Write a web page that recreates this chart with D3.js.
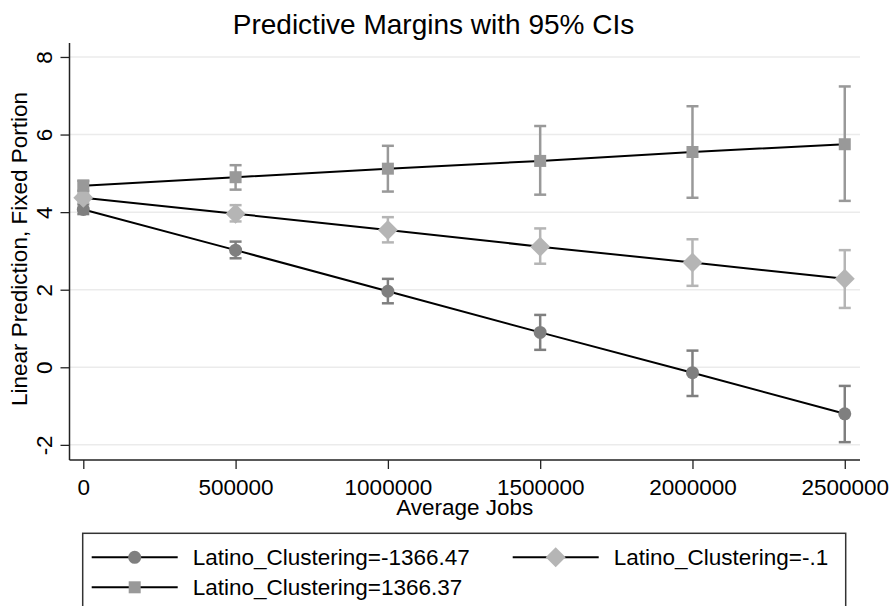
<!DOCTYPE html>
<html lang="en">
<head>
  <meta charset="UTF-8">
  <title>Predictive Margins with 95% CIs</title>
  <script src="https://d3js.org/d3.v7.min.js"></script>
  <style>
    body { margin: 0; background: #fff; }
    text { font-family: "Liberation Sans", Arial, sans-serif; fill: #000; }
  </style>
</head>
<body>
  <div id="chart"></div>
  <script>
    // values
    const jobs = [0, 500000, 1000000, 1500000, 2000000, 2500000];
    const xTicks = [0, 500000, 1000000, 1500000, 2000000, 2500000];
    const yTicks = [-2, 0, 2, 4, 6, 8];

    const seriesNames = ["Latino_Clustering=-1366.47", "Latino_Clustering=-.1", "Latino_Clustering=1366.37"];

    const lowEst = [4.07, 3.02, 1.96, 0.90, -0.14, -1.20];
    const lowLo  = [3.95, 2.81, 1.65, 0.45, -0.74, -1.93];
    const lowHi  = [4.20, 3.24, 2.28, 1.35, 0.43, -0.48];

    const midEst = [4.37, 3.96, 3.54, 3.11, 2.70, 2.28];
    const midLo  = [4.25, 3.76, 3.22, 2.67, 2.10, 1.53];
    const midHi  = [4.49, 4.18, 3.87, 3.58, 3.30, 3.02];

    const highEst = [4.68, 4.90, 5.12, 5.32, 5.55, 5.75];
    const highLo  = [4.55, 4.58, 4.53, 4.45, 4.37, 4.29];
    const highHi  = [4.81, 5.21, 5.71, 6.22, 6.73, 7.24];

    const series = [
      { name: seriesNames[0], est: lowEst, lo: lowLo, hi: lowHi, color: "#7f7f7f", shape: "circle" },
      { name: seriesNames[1], est: midEst, lo: midLo, hi: midHi, color: "#b5b5b5", shape: "diamond" },
      { name: seriesNames[2], est: highEst, lo: highLo, hi: highHi, color: "#999999", shape: "square" }
    ];

    const width = 895, height = 606;
    const plotLeft = 69.5, plotRight = 860, plotTop = 43, plotBottom = 460;

    const svg = d3.select("#chart").append("svg")
      .attr("width", width)
      .attr("height", height);

    const x = d3.scaleLinear()
      .domain([-45300, 2550000])
      .range([plotLeft, plotRight]);

    const y = d3.scaleLinear()
      .domain([-2.39, 8.36])
      .range([plotBottom, plotTop]);

    // gridlines
    svg.append("g")
      .selectAll("line")
      .data(yTicks)
      .join("line")
      .attr("x1", plotLeft)
      .attr("x2", plotRight)
      .attr("y1", d => y(d))
      .attr("y2", d => y(d))
      .attr("stroke", "#ebebeb")
      .attr("stroke-width", 1.5);

    // axes (plain hyphen for negatives, like Stata)
    const yAxis = svg.append("g")
      .attr("transform", `translate(${plotLeft},0)`)
      .call(d3.axisLeft(y).tickValues(yTicks).tickSize(9).tickPadding(8).tickFormat(d => String(d)));
    yAxis.select(".domain").attr("d", `M0,${plotTop}V${plotBottom}`).attr("stroke", "#222").attr("stroke-width", 1.5);
    yAxis.selectAll(".tick line").attr("stroke", "#222").attr("stroke-width", 1.3);
    yAxis.selectAll(".tick text")
      .attr("font-size", 22.5)
      .attr("x", null).attr("dy", null)
      .attr("text-anchor", "middle")
      .attr("transform", "translate(-17.5,0) rotate(-90)");

    const xAxis = svg.append("g")
      .attr("transform", `translate(0,${plotBottom})`)
      .call(d3.axisBottom(x).tickValues(xTicks).tickSize(9).tickFormat(d => String(d)));
    xAxis.select(".domain").attr("d", `M${plotLeft},0H${plotRight}`).attr("stroke", "#222").attr("stroke-width", 1.5);
    xAxis.selectAll(".tick line").attr("stroke", "#222").attr("stroke-width", 1.3);
    xAxis.selectAll(".tick text")
      .attr("font-size", 22.5)
      .attr("dy", null)
      .attr("y", 35);

    // titles
    svg.append("text")
      .attr("x", 433.5)
      .attr("y", 34)
      .attr("text-anchor", "middle")
      .attr("font-size", 28)
      .text("Predictive Margins with 95% CIs");

    svg.append("text")
      .attr("x", (plotLeft + plotRight) / 2)
      .attr("y", 515)
      .attr("text-anchor", "middle")
      .attr("font-size", 22.5)
      .text("Average Jobs");

    svg.append("text")
      .attr("transform", `translate(27,249) rotate(-90)`)
      .attr("text-anchor", "middle")
      .attr("font-size", 22.5)
      .text("Linear Prediction, Fixed Portion");

    function drawMarker(g, shape, color, cx, cy) {
      if (shape === "circle") {
        g.append("circle").attr("cx", cx).attr("cy", cy).attr("r", 6.5).attr("fill", color);
      } else if (shape === "square") {
        g.append("rect").attr("x", cx - 6).attr("y", cy - 6).attr("width", 12).attr("height", 12).attr("fill", color);
      } else {
        g.append("path")
          .attr("d", `M${cx},${cy - 10}L${cx + 10},${cy}L${cx},${cy + 10}L${cx - 10},${cy}Z`)
          .attr("fill", color);
      }
    }

    const line = d3.line()
      .x((d, i) => x(jobs[i]))
      .y(d => y(d));

    // confidence intervals first
    series.forEach(s => {
      const g = svg.append("g");
      jobs.forEach((j, i) => {
        const cx = x(j);
        g.append("line")
          .attr("x1", cx).attr("x2", cx)
          .attr("y1", y(s.lo[i])).attr("y2", y(s.hi[i]))
          .attr("stroke", s.color).attr("stroke-width", 2.5);
        [s.lo[i], s.hi[i]].forEach(v => {
          g.append("line")
            .attr("x1", cx - 6).attr("x2", cx + 6)
            .attr("y1", y(v)).attr("y2", y(v))
            .attr("stroke", s.color).attr("stroke-width", 2.5);
        });
      });
    });

    // connected estimates
    series.forEach(s => {
      const g = svg.append("g");
      g.append("path")
        .attr("d", line(s.est))
        .attr("fill", "none")
        .attr("stroke", "#000")
        .attr("stroke-width", 2);
      jobs.forEach((j, i) => drawMarker(g, s.shape, s.color, x(j), y(s.est[i])));
    });

    // legend
    const legend = svg.append("g");
    legend.append("rect")
      .attr("x", 82.7)
      .attr("y", 533.3)
      .attr("width", 763)
      .attr("height", 100)
      .attr("fill", "#fff")
      .attr("stroke", "#333")
      .attr("stroke-width", 1.5);

    const legendPos = [
      { lx: 91.7, ly: 557.3 },
      { lx: 512.7, ly: 557.3 },
      { lx: 91.7, ly: 587.3 }
    ];

    series.forEach((s, i) => {
      const p = legendPos[i];
      legend.append("line")
        .attr("x1", p.lx).attr("x2", p.lx + 86)
        .attr("y1", p.ly).attr("y2", p.ly)
        .attr("stroke", "#000").attr("stroke-width", 2);
      drawMarker(legend, s.shape, s.color, p.lx + 43, p.ly);
      legend.append("text")
        .attr("x", p.lx + 101)
        .attr("y", p.ly + 7.5)
        .attr("font-size", 22.5)
        .text(s.name);
    });
  </script>
</body>
</html>
